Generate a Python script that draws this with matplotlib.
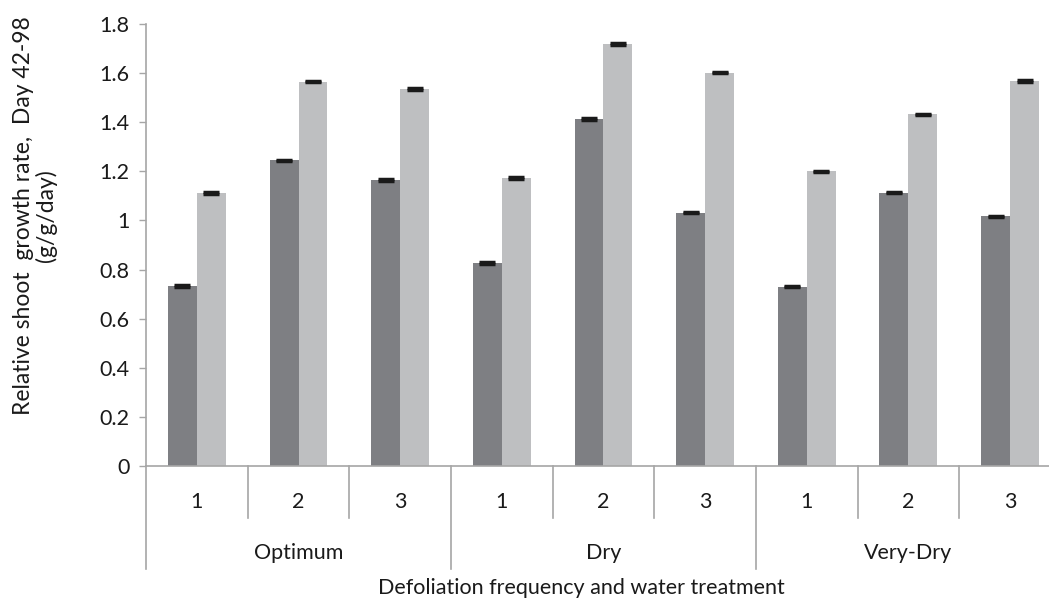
import numpy as np
import matplotlib.pyplot as plt

plt.rcParams['font.family'] = ['Lato', 'DejaVu Sans']

water = ['Optimum', 'Dry', 'Very-Dry']
frequency = ['1', '2', '3']

# relative shoot growth rate for each defoliation frequency within each water treatment
series_a = [0.733, 1.245, 1.165, 0.827, 1.414, 1.032, 0.730, 1.113, 1.017]
series_b = [1.112, 1.565, 1.535, 1.173, 1.718, 1.602, 1.200, 1.432, 1.568]
err_a = [0.003] * 9
err_b = [0.003] * 9

dark = '#7e7f83'
light = '#bebfc1'
axis_grey = '#a6a6a6'
txt = '#1a1a1a'
fs = 15.5

fig = plt.figure(figsize=(10.49, 6.03), dpi=100)
ax = fig.add_axes([0.1392, 0.2272, 1.0114 - 0.1392, 0.733])

x = np.arange(len(series_a))
w = 0.285
ax.bar(x - w / 2, series_a, w, color=dark,
       yerr=err_a, error_kw=dict(ecolor=txt, capsize=6, capthick=2.5, elinewidth=1))
ax.bar(x + w / 2, series_b, w, color=light,
       yerr=err_b, error_kw=dict(ecolor=txt, capsize=6, capthick=2.5, elinewidth=1))

ax.set_xlim(-0.5, 8.5)
ax.set_ylim(0, 1.8)
ax.set_yticks(np.arange(0, 1.81, 0.2))
ax.set_yticklabels(['0', '0.2', '0.4', '0.6', '0.8', '1', '1.2', '1.4', '1.6', '1.8'])
ax.tick_params(axis='y', direction='out', length=5, width=1, colors=axis_grey,
               labelcolor=txt, labelsize=fs, pad=7)
ax.set_xticks([])

for side in ['top', 'right']:
    ax.spines[side].set_visible(False)
for side in ['left', 'bottom']:
    ax.spines[side].set_color(axis_grey)
    ax.spines[side].set_linewidth(1.2)

fig.text(35 / 1049, 1 - 216 / 603, 'Relative shoot  growth rate,  Day 42-98\n(g/g/day)',
         rotation=90, ha='center', va='center', fontsize=16.5, color=txt,
         linespacing=1.0, multialignment='center')

# two-level category axis below the plot
tr = ax.get_xaxis_transform()
sub_y = -0.118
grp_y = -0.232
for i in range(len(x) + 1):
    edge = i - 0.5
    depth = grp_y if i % 3 == 0 else sub_y
    ax.plot([edge, edge], [0, depth], transform=tr, color=axis_grey, lw=1.2, clip_on=False)
for i in range(len(x)):
    ax.text(i, -0.082, frequency[i % 3], transform=tr, ha='center', va='center',
            fontsize=fs, color=txt)
for g, name in enumerate(water):
    ax.text(3 * g + 1, -0.197, name, transform=tr, ha='center', va='center',
            fontsize=fs, color=txt)

fig.text(581 / 1049, 1 - 588 / 603, 'Defoliation frequency and water treatment',
         ha='center', va='center', fontsize=fs, color=txt)

fig.savefig('out.png', dpi=100)
